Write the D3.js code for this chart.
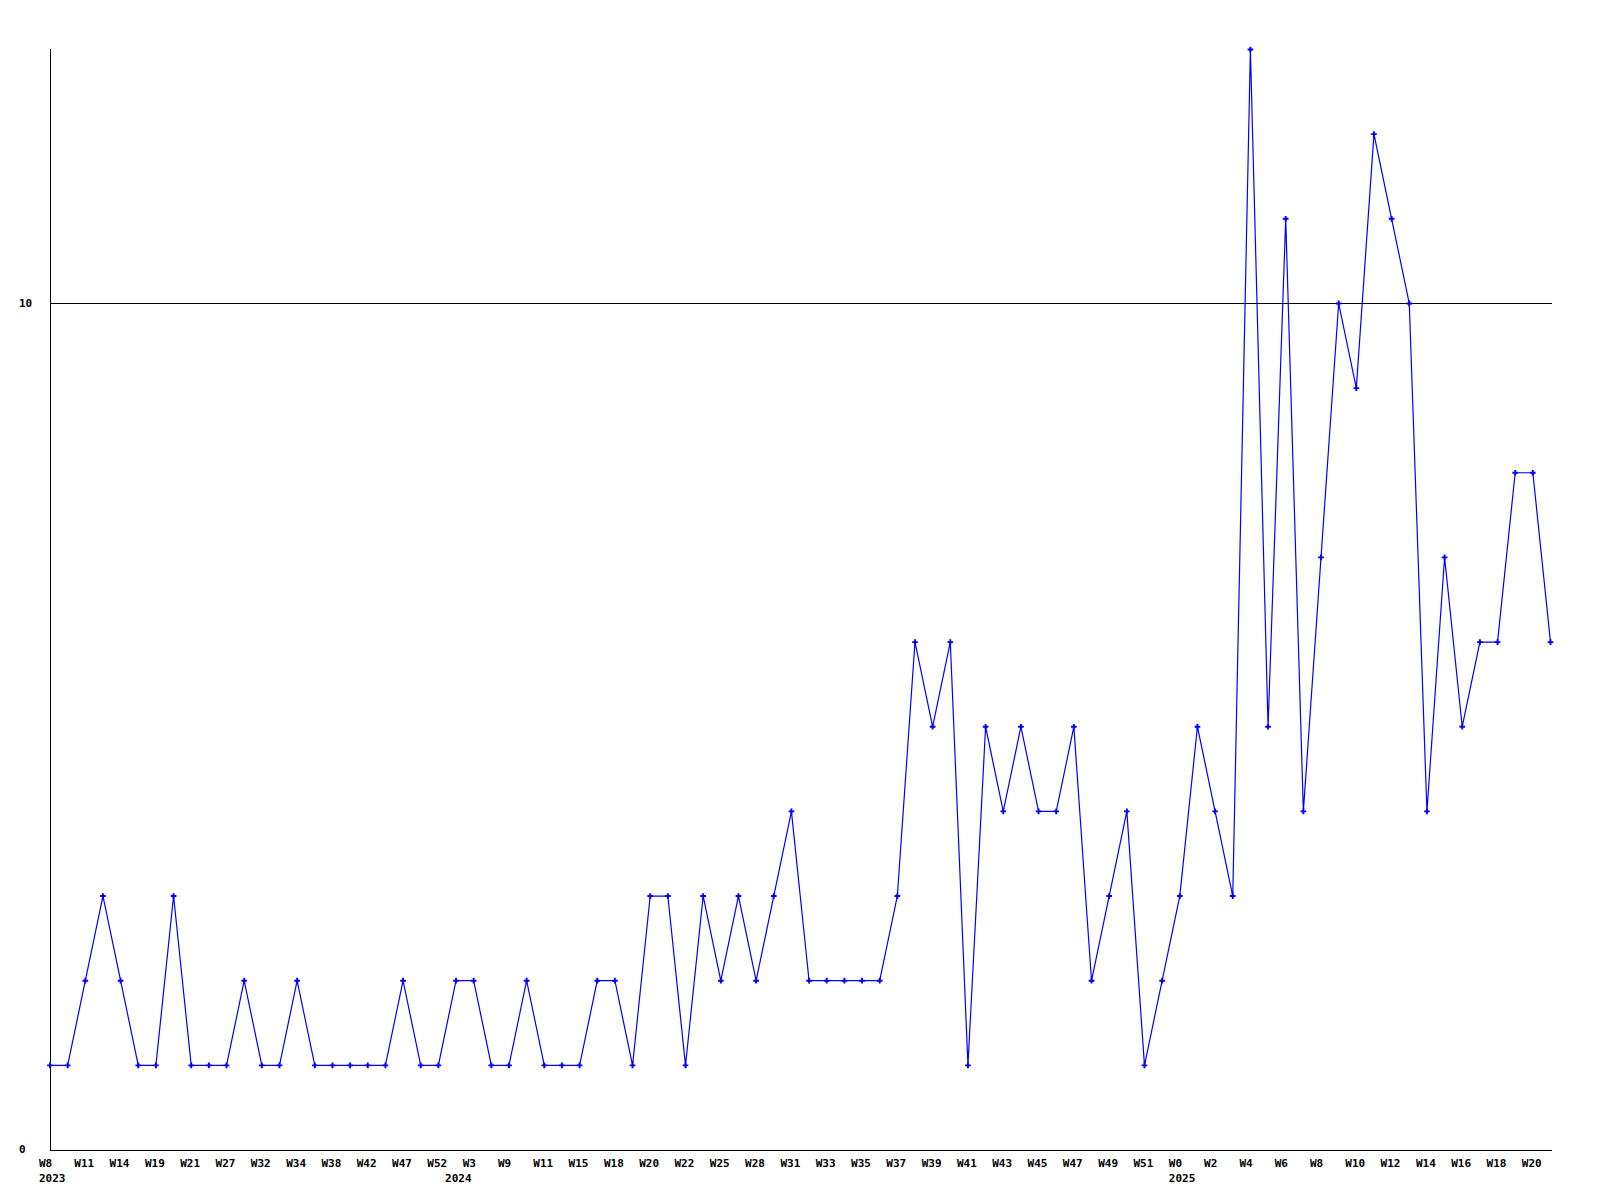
<!DOCTYPE html>
<html>
<head>
<meta charset="utf-8">
<script src="https://cdn.jsdelivr.net/npm/d3@7"></script>
<style>
  html, body { margin: 0; padding: 0; background: #fff; }
  svg { display: block; }
  text { font-family: "DejaVu Sans Mono", "Liberation Mono", monospace; font-weight: bold; font-size: 11px; fill: #000; }
</style>
</head>
<body>
<svg id="chart" width="1600" height="1200"></svg>
<script>
// Series values, one per data point (86 points)
const values = [
  1, 1, 2, 3, 2, 1, 1, 3, 1, 1,
  1, 2, 1, 1, 2, 1, 1, 1, 1, 1,
  2, 1, 1, 2, 2, 1, 1, 2, 1, 1,
  1, 2, 2, 1, 3, 3, 1, 3, 2, 3,
  2, 3, 4, 2, 2, 2, 2, 2, 3, 6,
  5, 6, 1, 5, 4, 5, 4, 4, 5, 2,
  3, 4, 1, 2, 3, 5, 4, 3, 13, 5,
  11, 4, 7, 10, 9, 12, 11, 10, 4, 7,
  5, 6, 6, 8, 8, 6
];
// Week labels shown under every other point
const weekLabels = [
  "W8", "W11", "W14", "W19", "W21", "W27", "W32", "W34", "W38", "W42", "W47", "W52",
  "W3", "W9", "W11", "W15", "W18", "W20", "W22", "W25", "W28", "W31", "W33", "W35",
  "W37", "W39", "W41", "W43", "W45", "W47", "W49", "W51",
  "W0", "W2", "W4", "W6", "W8", "W10", "W12", "W14", "W16", "W18", "W20"
];
// Year labels and the point index where each year starts
const yearLabels = ["2023", "2024", "2025"];
const yearStartIndex = [0, 23, 64];
// Y tick values
const yTicks = [0, 10];
const yMax = 13;

(function () {
const svg = d3.select("#chart");
const mLeft = 50, mRight = 1550.5, mTop = 49.5, mBottom = 1150;

const x = d3.scaleLinear().domain([0, values.length - 1]).range([mLeft, mRight]);
const y = d3.scaleLinear().domain([0, yMax]).range([mBottom, mTop]);

// gridline at 10 and axes
yTicks.filter(t => t > 0).forEach(t => {
  svg.append("line")
    .attr("x1", mLeft).attr("x2", mRight + 1)
    .attr("y1", Math.floor(y(t)) + 0.5).attr("y2", Math.floor(y(t)) + 0.5)
    .attr("stroke", "#000").attr("stroke-width", 1).attr("shape-rendering", "crispEdges");
});
svg.append("line")
  .attr("x1", mLeft + 0.5).attr("x2", mLeft + 0.5)
  .attr("y1", 49).attr("y2", mBottom + 1)
  .attr("stroke", "#000").attr("shape-rendering", "crispEdges");
svg.append("line")
  .attr("x1", mLeft).attr("x2", mRight + 1)
  .attr("y1", mBottom + 0.5).attr("y2", mBottom + 0.5)
  .attr("stroke", "#000").attr("shape-rendering", "crispEdges");

// y labels
svg.selectAll("text.ylab").data(yTicks).join("text")
  .attr("class", "ylab")
  .attr("x", 19)
  .attr("y", d => y(d))
  .attr("dy", "0.3em")
  .text(d => d);

// x week labels at even indices
svg.selectAll("text.xlab").data(weekLabels).join("text")
  .attr("class", "xlab")
  .attr("x", (d, i) => x(i * 2) - 11)
  .attr("y", 1167)
  .text(d => d);

// year labels
svg.selectAll("text.year").data(yearLabels).join("text")
  .attr("class", "year")
  .attr("x", (d, i) => x(yearStartIndex[i]) - 11)
  .attr("y", 1182)
  .text(d => d);

// line
const line = d3.line().x((d, i) => x(i)).y(d => y(d));
svg.append("path")
  .datum(values)
  .attr("d", line)
  .attr("fill", "none")
  .attr("stroke", "#0000ff")
  .attr("stroke-width", 1.2);

// markers
const cross = d3.symbol().type(d3.symbolCross).size(18);
svg.selectAll("path.mk").data(values).join("path")
  .attr("class", "mk")
  .attr("d", cross)
  .attr("transform", (d, i) => `translate(${x(i)},${y(d)})`)
  .attr("fill", "#0000ff");
})();
</script>
</body>
</html>
